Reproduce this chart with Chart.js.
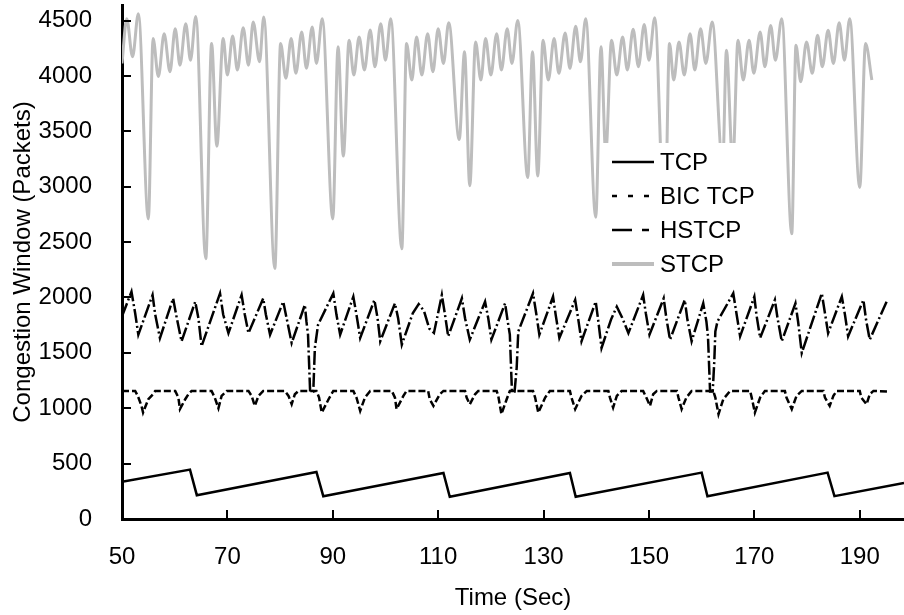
<!DOCTYPE html>
<html>
<head>
<meta charset="utf-8">
<script src="https://cdn.jsdelivr.net/npm/chart.js@4.4.1/dist/chart.umd.min.js"></script>
<style>
  html, body { margin: 0; padding: 0; background: #fff; }
  #wrap { width: 904px; height: 615px; }
</style>
</head>
<body>
<div id="wrap"><canvas id="myChart" width="904" height="615"></canvas></div>
<script>
// tick labels
const xTicks = [50, 70, 90, 110, 130, 150, 170, 190];
const yTicks = [0, 500, 1000, 1500, 2000, 2500, 3000, 3500, 4000, 4500];

// TCP (sawtooth)
const tcpTime = [50, 62.9, 64.2, 86.9, 88.2, 111.0, 112.2, 135.0, 136.1, 160.0, 161.1, 183.9, 185.2, 198.4];
const tcpCwnd = [335, 446, 215, 425, 206, 416, 200, 416, 200, 419, 206, 419, 206, 326];

// BIC TCP
const bicTime = [50.0, 52.5, 53.0, 53.7, 54.0, 55.0, 55.6, 56.3,
  60.1, 60.7, 61.0, 62.0, 62.6, 63.2,
  67.0, 67.6, 68.3, 68.9, 69.9,
  74.0, 74.6, 75.2, 75.9, 76.8,
  80.9, 81.6, 82.2, 82.8, 83.5,
  86.9, 87.4, 87.9, 89.2, 90.1,
  93.9, 94.5, 95.2, 96.1, 97.1,
  101.2, 101.8, 102.1, 103.4, 104.0,
  108.1, 108.4, 109.1, 110.3, 111.0,
  115.1, 115.4, 116.0, 117.0, 117.6,
  121.1, 121.4, 122.0, 123.0, 123.6,
  128.0, 128.4, 129.0, 130.3, 131.2,
  135.0, 135.3, 136.0, 137.2, 138.2,
  142.3, 142.6, 143.2, 143.9, 144.8,
  148.9, 149.5, 150.2, 150.8, 151.5,
  155.3, 155.6, 156.2, 157.1, 158.1,
  162.2, 162.6, 163.2, 164.1, 165.4,
  169.2, 169.5, 170.1, 171.1, 172.0,
  175.8, 176.1, 177.1, 178.0, 179.0,
  183.1, 183.4, 184.3, 185.0, 185.6,
  190.0, 190.3, 191.3, 191.9, 192.6, 195.7];
const bicCwnd = [1156, 1156, 1111, 1021, 961, 1081, 1111, 1156,
  1156, 1096, 992, 1081, 1126, 1156,
  1156, 1096, 1000, 1111, 1156,
  1156, 1111, 1021, 1111, 1156,
  1156, 1111, 1036, 1126, 1156,
  1156, 1096, 960, 1081, 1156,
  1156, 1096, 977, 1096, 1156,
  1156, 1096, 992, 1111, 1156,
  1156, 1081, 1021, 1126, 1156,
  1156, 1096, 1036, 1126, 1156,
  1156, 1111, 947, 1081, 1156,
  1156, 1096, 960, 1096, 1156,
  1156, 1096, 992, 1111, 1156,
  1156, 1096, 1006, 1111, 1156,
  1156, 1096, 1021, 1126, 1156,
  1156, 1096, 992, 1096, 1156,
  1156, 1096, 947, 1081, 1156,
  1156, 1096, 961, 1096, 1156,
  1156, 1096, 992, 1111, 1156,
  1156, 1096, 1021, 1111, 1156,
  1156, 1096, 1036, 1126, 1156, 1150];

// HSTCP
const hstcpTime = [50.0, 51.8, 52.5, 53.1, 55.8, 56.3, 57.2, 59.7, 60.4, 61.3,
  63.9, 64.5, 65.1, 68.6, 69.2, 70.2, 72.7, 73.3, 74.0, 76.8, 77.3, 78.1,
  80.6, 81.3, 82.2, 84.7, 85.0, 85.3, 85.7, 86.3, 86.6, 87.2,
  90.1, 90.7, 91.4, 93.9, 94.5, 95.2, 97.9, 98.5, 99.0, 101.8, 102.4, 103.1,
  105.2, 106.3, 107.3, 108.3, 109.2, 110.7, 111.3, 111.9, 114.5, 115.1, 116.0,
  118.9, 119.5, 120.1, 122.7, 123.2, 123.6, 124.0, 124.5, 124.9, 125.2,
  128.0, 128.6, 129.2, 131.8, 132.3, 133.0, 136.0, 136.6, 137.2, 139.9, 140.4, 141.0,
  142.8, 143.9, 144.9, 146.1, 148.9, 149.4, 150.1, 152.8, 153.3, 154.0,
  156.8, 157.3, 158.1, 160.3, 160.9, 161.2, 161.6, 162.1, 162.4, 162.6, 163.0,
  166.0, 166.6, 167.3, 170.0, 170.4, 171.1, 173.9, 174.4, 175.2, 177.8, 178.3, 179.0,
  182.8, 183.4, 184.0, 186.6, 187.2, 187.8, 190.7, 191.2, 191.9, 195.1];
const hstcpCwnd = [1830, 2052, 1857, 1664, 2022, 1846, 1633, 1992, 1813, 1604,
  1962, 1813, 1559, 2037, 1846, 1678, 2022, 1846, 1678, 1992, 1846, 1664,
  1962, 1798, 1589, 1933, 1783, 1664, 1150, 1150, 1544, 1753,
  2037, 1843, 1664, 2007, 1843, 1634, 1977, 1813, 1604, 1947, 1813, 1574,
  1860, 1940, 1880, 1720, 1680, 2022, 1843, 1649, 1992, 1813, 1619,
  1962, 1813, 1619, 1947, 1783, 1664, 1150, 1150, 1365, 1693,
  2037, 1858, 1664, 2007, 1843, 1634, 1977, 1798, 1604, 1962, 1783, 1544,
  1800, 1917, 1820, 1678, 2022, 1858, 1664, 1992, 1813, 1619,
  1977, 1798, 1604, 1947, 1783, 1650, 1150, 1150, 1424, 1693, 1783,
  2037, 1858, 1649, 2007, 1843, 1634, 1977, 1813, 1604, 1947, 1783, 1499,
  2037, 1858, 1678, 2007, 1843, 1649, 1977, 1798, 1619, 1962];

// STCP
const stcpTime = [50.0, 50.9, 52.0, 53.1, 55.0, 55.9, 56.9, 58.0, 59.1, 60.1, 61.0, 62.1, 63.0, 64.0,
  65.9, 67.0, 68.0, 69.2, 70.0, 71.0, 71.9, 73.0, 74.0, 74.9, 76.1, 76.9,
  79.0, 80.1, 81.1, 82.1, 83.0, 84.1, 85.0, 86.1, 86.9, 88.0,
  90.0, 91.0, 92.0, 93.1, 94.0, 95.0, 96.0, 97.1, 98.0, 99.1, 100.0, 101.0,
  103.1, 104.0, 105.0, 105.9, 106.9, 108.0, 109.0, 110.0, 111.0, 112.0,
  114.0, 115.0, 116.0, 117.1, 118.1, 119.0, 120.0, 121.1, 122.0, 123.1, 124.0, 125.1,
  127.0, 127.9, 128.9, 129.9, 130.9, 132.0, 132.9, 134.1, 135.0, 136.1, 137.0, 138.0,
  139.9, 140.9, 141.8, 142.9, 143.9, 145.0, 145.9, 147.0, 148.0, 149.1, 150.0, 151.1,
  153.0, 153.9, 154.7, 155.7, 156.7, 157.8, 158.7, 159.8, 160.8, 162.0,
  164.0, 164.7, 165.9, 166.9, 167.9, 169.0, 169.9, 171.1, 172.0, 173.1, 174.0, 175.2,
  177.1, 177.9, 178.8, 179.9, 181.0, 182.0, 182.9, 184.0, 185.0, 186.1, 187.1, 188.1,
  190.0, 191.1, 192.3];
const stcpCwnd = [4113, 4516, 4172, 4561, 2709, 4337, 3994, 4381, 4038, 4426, 4097, 4471, 4142, 4537,
  2350, 4292, 3366, 4337, 4008, 4361, 4053, 4435, 4097, 4486, 4127, 4531,
  2261, 4292, 3978, 4337, 4023, 4397, 4068, 4441, 4113, 4516,
  2709, 4262, 3277, 4322, 4008, 4352, 4053, 4415, 4083, 4471, 4142, 4516,
  2440, 4292, 3963, 4352, 4008, 4381, 4038, 4426, 4113, 4480,
  3426, 4217, 3008, 4307, 3963, 4337, 4008, 4381, 4053, 4426, 4113, 4501,
  3082, 4217, 3097, 4322, 3963, 4337, 4023, 4388, 4068, 4448, 4127, 4516,
  2724, 4262, 3300, 4322, 4008, 4352, 4053, 4420, 4083, 4465, 4142, 4525,
  2600, 4292, 3963, 4307, 4008, 4381, 4053, 4426, 4113, 4486,
  3200, 4232, 3200, 4322, 3963, 4322, 4023, 4397, 4083, 4456, 4142, 4516,
  2574, 4277, 3948, 4307, 4023, 4367, 4083, 4411, 4113, 4480, 4142, 4516,
  2993, 4292, 3963];

const toPoints = (xs, ys) => xs.map((t, i) => ({ x: t, y: ys[i] }));

const fontFam = "'Liberation Sans', Arial, sans-serif";
Chart.defaults.font.family = fontFam;
Chart.defaults.font.size = 24;
Chart.defaults.color = '#000';

// tick marks drawn inside the plot, like the original
const insideTicks = {
  id: 'insideTicks',
  afterDraw(chart) {
    const ctx = chart.ctx;
    const sx = chart.scales.x;
    const sy = chart.scales.y;
    ctx.save();
    ctx.strokeStyle = '#000';
    ctx.lineWidth = 2;
    ctx.beginPath();
    xTicks.forEach(v => {
      const px = Math.round(sx.getPixelForValue(v));
      ctx.moveTo(px, sx.top);
      ctx.lineTo(px, sx.top - 9);
    });
    yTicks.forEach(v => {
      const py = Math.round(sy.getPixelForValue(v));
      ctx.moveTo(sy.right, py);
      ctx.lineTo(sy.right + 9, py);
    });
    ctx.stroke();
    ctx.restore();
  }
};

// legend box inside the chart (white background covers lines)
const boxLegend = {
  id: 'boxLegend',
  afterDatasetsDraw(chart) {
    const ctx = chart.ctx;
    const items = chart.data.datasets;
    const legendDash = [[], [5, 11], [20, 10, 7, 10], []];
    ctx.save();
    ctx.fillStyle = '#fff';
    ctx.fillRect(603, 143, 165, 137);
    ctx.font = '24px ' + fontFam;
    ctx.textBaseline = 'middle';
    items.forEach((ds, i) => {
      const y = 162 + i * 34;
      ctx.beginPath();
      ctx.setLineDash(legendDash[i]);
      ctx.strokeStyle = ds.borderColor;
      ctx.lineWidth = i === 3 ? 4 : 2.5;
      ctx.moveTo(612, y);
      ctx.lineTo(654, y);
      ctx.stroke();
      ctx.setLineDash([]);
      ctx.fillStyle = '#000';
      ctx.fillText(ds.label, 660, y + 1);
    });
    ctx.restore();
  }
};

const ctx = document.getElementById('myChart');

new Chart(ctx, {
  type: 'line',
  data: {
    datasets: [
      {
        label: 'TCP',
        data: toPoints(tcpTime, tcpCwnd),
        borderColor: '#000',
        borderWidth: 2.5
      },
      {
        label: 'BIC TCP',
        data: toPoints(bicTime, bicCwnd),
        borderColor: '#000',
        borderWidth: 2.5,
        borderDash: [7, 3]
      },
      {
        label: 'HSTCP',
        data: toPoints(hstcpTime, hstcpCwnd),
        borderColor: '#000',
        borderWidth: 2.5,
        borderDash: [14, 3, 2, 3]
      },
      {
        label: 'STCP',
        data: toPoints(stcpTime, stcpCwnd),
        borderColor: '#bdbdbd',
        borderWidth: 3,
        cubicInterpolationMode: 'monotone'
      }
    ]
  },
  options: {
    responsive: false,
    animation: false,
    events: [],
    elements: { point: { radius: 0 } },
    layout: { padding: { top: 5, right: 0, left: 0, bottom: 0 } },
    plugins: {
      legend: { display: false },
      tooltip: { enabled: false }
    },
    scales: {
      x: {
        type: 'linear',
        min: 50,
        max: 198.4,
        grid: { display: false },
        border: { display: true, color: '#000', width: 3 },
        ticks: { padding: 16, autoSkip: false, maxRotation: 0, callback: (v) => String(v) },
        afterBuildTicks: (scale) => { scale.ticks = xTicks.map(v => ({ value: v })); },
        afterFit: (scale) => {
          scale.height = 96;
          scale.paddingLeft = 0;
          scale.paddingRight = 0;
        },
        title: { display: true, text: 'Time (Sec)', padding: { top: 0, bottom: 2 } }
      },
      y: {
        min: 0,
        max: 4640,
        grid: { display: false },
        border: { display: true, color: '#000', width: 3 },
        ticks: { padding: 22, callback: (v) => String(v) },
        afterBuildTicks: (scale) => { scale.ticks = yTicks.map(v => ({ value: v })); },
        afterFit: (scale) => {
          scale.width = 122;
          scale.paddingTop = 0;
          scale.paddingBottom = 0;
        },
        title: { display: true, text: 'Congestion Window (Packets)', padding: { top: 9, bottom: 0 } }
      }
    }
  },
  plugins: [boxLegend, insideTicks]
});
</script>
</body>
</html>
